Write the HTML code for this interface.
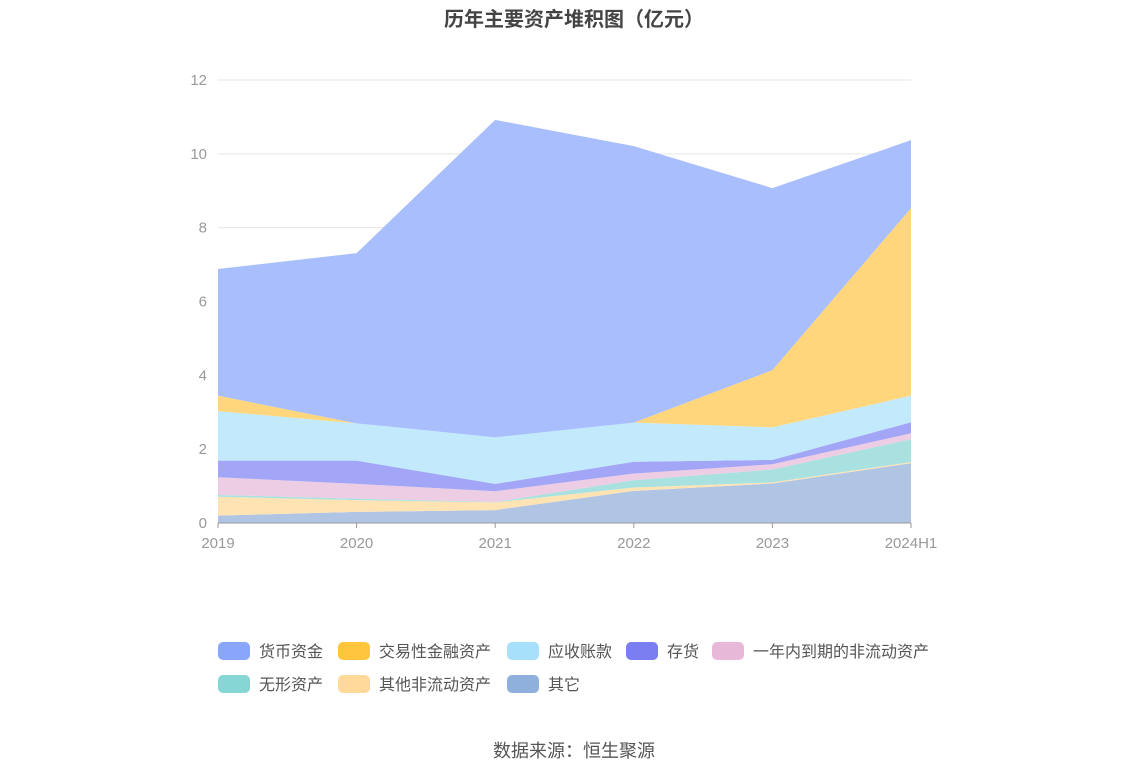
<!DOCTYPE html>
<html><head><meta charset="utf-8"><style>
body{margin:0;background:#fff;width:1148px;height:776px;overflow:hidden;font-family:"Liberation Sans","Noto Sans CJK SC",sans-serif}
</style></head><body>
<svg width="1148" height="776" xmlns="http://www.w3.org/2000/svg">
<text x="574" y="26" text-anchor="middle" font-size="20" font-weight="bold" fill="#444" font-family="Liberation Sans, Noto Sans CJK SC, sans-serif">历年主要资产堆积图（亿元）</text>
<g id="grid"></g><g id="areas"></g><g id="axes"></g><g id="legend"></g>
<text x="574" y="757" text-anchor="middle" font-size="18" fill="#555" font-family="Liberation Sans, Noto Sans CJK SC, sans-serif">数据来源：恒生聚源</text>
</svg>
<script>
const categories=["2019","2020","2021","2022","2023","2024H1"];
const yTicks=[0,2,4,6,8,10,12];
const seriesNames=["其它","其他非流动资产","无形资产","一年内到期的非流动资产","存货","应收账款","交易性金融资产","货币资金"];
const sOther=[0.20,0.30,0.35,0.87,1.07,1.62];
const sOtherNonCur=[0.51,0.32,0.21,0.09,0.03,0.03];
const sIntangible=[0.05,0.04,0.01,0.20,0.35,0.62];
const sOneYear=[0.48,0.40,0.29,0.18,0.14,0.16];
const sInventory=[0.45,0.63,0.20,0.32,0.12,0.30];
const sReceivable=[1.34,1.01,1.26,1.06,0.88,0.72];
const sTrading=[0.42,0.00,0.00,0.00,1.55,5.08];
const sCash=[3.43,4.61,8.60,7.49,4.93,1.84];
const seriesData=[sOther,sOtherNonCur,sIntangible,sOneYear,sInventory,sReceivable,sTrading,sCash];
const legendColors=["#8fb0dc","#ffd99a","#86d6d6","#e8b8d8","#7b7ef0","#a6e0fa","#ffc53d","#8aa6fb"];
const fillColors=["#b0c4e4","#ffe3b3","#a9e1e1","#edcde3","#a3a6f6","#c2eafc","#ffd67c","#a9bffd"];
const slugs=["other","other-noncurrent","intangible","one-year-noncurrent","inventory","receivable","trading-assets","cash"];
const NS="http://www.w3.org/2000/svg";
const x0=218,x1=911,y0=523,y1=80,yMax=12;
const xs=i=>x0+(x1-x0)*i/(categories.length-1);
const ys=v=>y0-(y0-y1)*v/yMax;
function mk(t,a,p){const e=document.createElementNS(NS,t);for(const k in a)e.setAttribute(k,a[k]);p.appendChild(e);return e;}
const grid=document.getElementById('grid'),axes=document.getElementById('axes'),areas=document.getElementById('areas'),legend=document.getElementById('legend');
yTicks.forEach(v=>{
 if(v>0){const l=mk('line',{x1:x0,x2:x1,y1:ys(v),y2:ys(v),stroke:'#e6e6e6'},grid);
 
 }
 const t=mk('text',{x:207,y:ys(v)+5,'text-anchor':'end','font-size':15,fill:'#999'},axes);t.textContent=v;
 
 
});
let cum=categories.map(()=>0);
seriesData.forEach((s,k)=>{
 const lower=cum.slice();cum=cum.map((c,i)=>c+s[i]);
 let d='M'+categories.map((c,i)=>xs(i)+','+ys(cum[i])).join(' L');
 for(let i=categories.length-1;i>=0;i--)d+=' L'+xs(i)+','+ys(lower[i]);
 const p=mk('path',{d:d+'Z',fill:fillColors[k]},areas);
 
 
});
const ax=mk('line',{x1:x0,x2:x1,y1:y0,y2:y0,stroke:'#999'},axes);


categories.forEach((c,i)=>{
 mk('line',{x1:xs(i),x2:xs(i),y1:y0,y2:y0+5,stroke:'#999'},axes);
 const t=mk('text',{x:xs(i),y:548,'text-anchor':'middle','font-size':15,fill:'#999'},axes);t.textContent=c;
 
 
});
const lg=[[7,218,651],[6,338,651],[5,507,651],[4,626,651],[3,712,651],[2,218,684],[1,338,684],[0,507,684]];
lg.forEach(([k,x,y])=>{
 const g=mk('g',{},legend);
 
 
 mk('rect',{x:x,y:y-9,width:32,height:18,rx:5,fill:legendColors[k]},g);
 const t=mk('text',{x:x+41,y:y+6,'font-size':16,fill:'#555'},g);t.textContent=seriesNames[k];
});
</script>
</body></html>
